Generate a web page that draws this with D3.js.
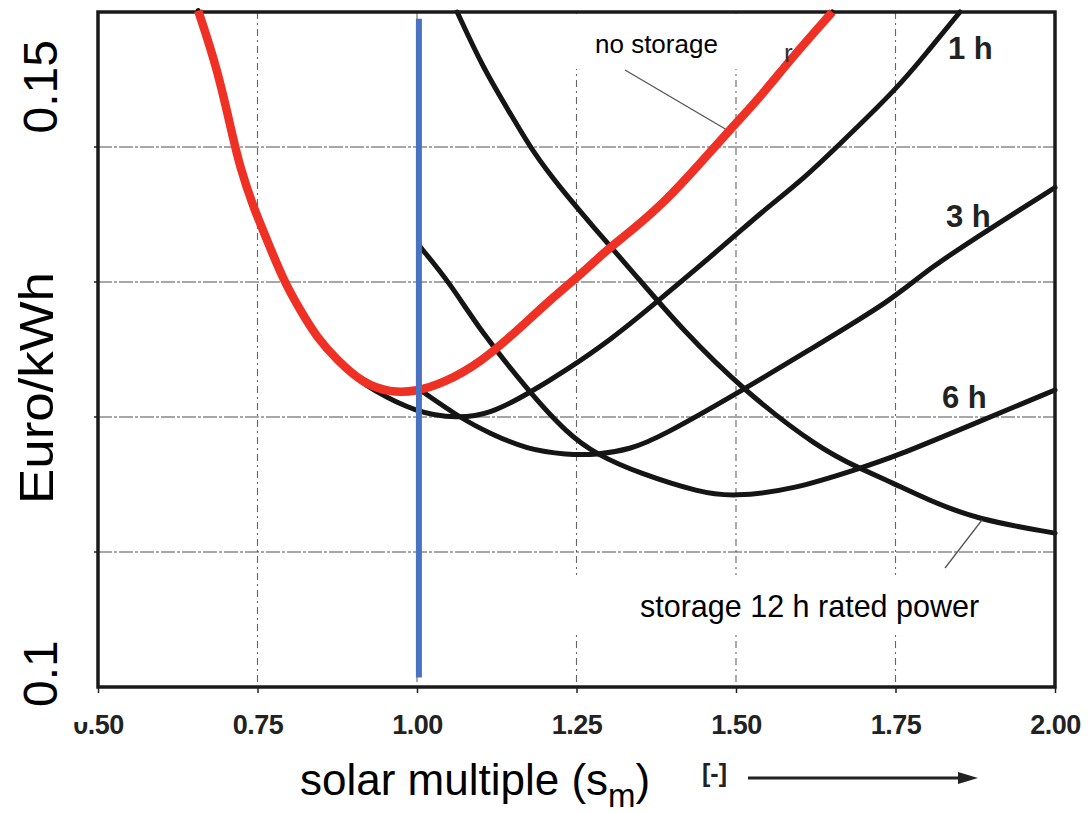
<!DOCTYPE html>
<html>
<head>
<meta charset="utf-8">
<script src="https://cdn.jsdelivr.net/npm/d3@7"></script>
<style>
  html, body { margin: 0; padding: 0; background: #fff; }
  svg { display: block; font-family: "Liberation Sans", Arial, sans-serif; }
</style>
</head>
<body>
<svg id="chart" width="1091" height="813"></svg>
<script>
// ---------- data (solar multiple, Euro/kWh) ----------
const smTicks = [0.5, 0.75, 1.0, 1.25, 1.5, 1.75, 2.0];
const smTickLabels = ["0.50", "0.75", "1.00", "1.25", "1.50", "1.75", "2.00"];
const costTicks = [0.10, 0.15];
const costTickLabels = ["0.1", "0.15"];
const gridSM = [0.75, 1.0, 1.25, 1.5, 1.75];
const gridCost = [0.11, 0.12, 0.13, 0.14];

const noStorage = [
  [0.657, 0.1501], [0.6865, 0.1459], [0.710, 0.1410], [0.7226, 0.1385], [0.743, 0.1356],
  [0.765, 0.1331], [0.790, 0.1302], [0.817, 0.1279], [0.843, 0.1259], [0.875, 0.1242],
  [0.915, 0.1225], [0.958, 0.1218], [1.000, 0.1219], [1.041, 0.1225], [1.099, 0.1240],
  [1.157, 0.1264], [1.209, 0.1287], [1.260, 0.1307], [1.298, 0.1324], [1.339, 0.1339],
  [1.392, 0.1361], [1.444, 0.1388], [1.491, 0.1413], [1.538, 0.1437], [1.589, 0.1467],
  [1.651, 0.1500]
];
const storage1h = [
  [0.903, 0.1230], [0.926, 0.1221], [1.000, 0.1203], [1.063, 0.1199], [1.114, 0.1202],
  [1.177, 0.1218], [1.235, 0.1235], [1.303, 0.1257], [1.373, 0.1284], [1.491, 0.1331],
  [1.538, 0.1351], [1.600, 0.1374], [1.658, 0.1400], [1.754, 0.1444], [1.799, 0.1470],
  [1.851, 0.1500]
];
const storage3h = [
  [1.005, 0.1220], [1.072, 0.1198], [1.114, 0.1188], [1.172, 0.1176], [1.235, 0.1172],
  [1.282, 0.1172], [1.334, 0.1176], [1.381, 0.1185], [1.511, 0.1220], [1.616, 0.1250],
  [1.746, 0.1287], [1.799, 0.1309], [1.903, 0.1341], [2.000, 0.1370]
];
const storage6h = [
  [1.005, 0.1326], [1.052, 0.1299], [1.099, 0.1264], [1.177, 0.1218], [1.235, 0.1188],
  [1.282, 0.1172], [1.350, 0.1158], [1.444, 0.1144], [1.495, 0.1141], [1.589, 0.1146],
  [1.694, 0.1162], [1.746, 0.1170], [1.878, 0.1196], [2.000, 0.1220]
];
const storage12h = [
  [1.063, 0.1500], [1.103, 0.1459], [1.146, 0.1425], [1.182, 0.1396], [1.224, 0.1370],
  [1.276, 0.1341], [1.339, 0.1307], [1.417, 0.1264], [1.511, 0.1220], [1.632, 0.1176],
  [1.694, 0.1162], [1.746, 0.1151], [1.799, 0.1139], [1.878, 0.1124], [2.000, 0.1114]
];
const markerSM = 1.003;
const markerCost = [0.1007, 0.1495];

// ---------- setup ----------
const svg = d3.select("#chart");
const x = d3.scaleLinear().domain([0.5, 2.0]).range([98, 1055]);
const y = d3.scaleLinear().domain([0.10, 0.15]).range([687, 12]);
const FONT = '"Liberation Sans", Arial, sans-serif';

// grid
const grid = svg.append("g").attr("stroke", "#333").attr("stroke-width", 1.1);
grid.selectAll("line.gx").data(gridSM).join("line")
  .attr("stroke-dasharray", "7,4,2,4").attr("opacity", 0.75)
  .attr("x1", d => x(d)).attr("x2", d => x(d))
  .attr("y1", y(0.15)).attr("y2", y(0.10));
grid.selectAll("line.gy").data(gridCost).join("line")
  .attr("stroke-dasharray", "14,2,3,2").attr("opacity", 0.85)
  .attr("x1", x(0.5)).attr("x2", x(2.0))
  .attr("y1", d => y(d)).attr("y2", d => y(d));

// white patches (overlaid label areas)
svg.append("rect").attr("x", 563).attr("y", 14).attr("width", 222).attr("height", 55).attr("fill", "#fff");
svg.append("rect").attr("x", 565).attr("y", 575).attr("width", 440).attr("height", 58).attr("fill", "#fff");

// left ticks
svg.append("g").selectAll("line").data(gridCost).join("line")
  .attr("x1", x(0.5) - 4).attr("x2", x(0.5))
  .attr("y1", d => y(d)).attr("y2", d => y(d))
  .attr("stroke", "#222").attr("stroke-width", 1.5);

// x axis
const xAxis = d3.axisBottom(x).tickValues(smTicks)
  .tickFormat((d, i) => smTickLabels[i]).tickSize(6).tickPadding(22);
const gx = svg.append("g").attr("transform", `translate(0,${y(0.10)})`).call(xAxis);
gx.select(".domain").remove();
gx.selectAll(".tick line").attr("stroke", "#222").attr("stroke-width", 1.5);
gx.selectAll(".tick text").attr("font-family", FONT).attr("font-weight", "bold")
  .attr("font-size", 27).attr("fill", "#222").attr("letter-spacing", -0.5);
// partially hidden leading zero of first label
svg.append("rect").attr("x", 68).attr("y", 703).attr("width", 21).attr("height", 19).attr("fill", "#fff");

// curves
const line = d3.line().x(d => x(d[0])).y(d => y(d[1])).curve(d3.curveBasis);
const blacks = [noStorage, storage1h, storage3h, storage6h, storage12h];
svg.append("g").selectAll("path").data(blacks).join("path")
  .attr("d", line).attr("fill", "none").attr("stroke", "#151515")
  .attr("stroke-width", 5).attr("stroke-linecap", "round").attr("stroke-linejoin", "round");

// frame
svg.append("rect").attr("x", x(0.5)).attr("y", y(0.15))
  .attr("width", x(2.0) - x(0.5)).attr("height", y(0.10) - y(0.15))
  .attr("fill", "none").attr("stroke", "#1a1a1a").attr("stroke-width", 3.5);

// leader lines
svg.append("line").attr("x1", 625).attr("y1", 70).attr("x2", 727).attr("y2", 130)
  .attr("stroke", "#555").attr("stroke-width", 1.3);
svg.append("line").attr("x1", 982).attr("y1", 520).attr("x2", 945).attr("y2", 568)
  .attr("stroke", "#555").attr("stroke-width", 1.3);

// red overlay (no storage)
svg.append("path").datum(noStorage).attr("d", line).attr("fill", "none")
  .attr("stroke", "#ee3124").attr("stroke-width", 8.5).attr("stroke-linejoin", "round");

// blue marker line
svg.append("line").attr("x1", x(markerSM)).attr("x2", x(markerSM))
  .attr("y1", y(markerCost[0])).attr("y2", y(markerCost[1]))
  .attr("stroke", "#4a72c0").attr("stroke-width", 6);

// curve labels
const lbl = svg.append("g").attr("font-family", FONT).attr("font-weight", "bold")
  .attr("font-size", 31).attr("fill", "#222");
lbl.append("text").attr("x", 948).attr("y", 59).text("1 h");
lbl.append("text").attr("x", 946).attr("y", 227).text("3 h");
lbl.append("text").attr("x", 942).attr("y", 408).text("6 h");
svg.append("text").attr("x", 784).attr("y", 62).attr("font-family", FONT)
  .attr("font-size", 26).attr("fill", "#333").text("r");

svg.append("text").attr("x", 595).attr("y", 53).attr("font-family", FONT)
  .attr("font-size", 26).attr("fill", "#000").text("no storage");
svg.append("text").attr("x", 640).attr("y", 617).attr("font-family", FONT)
  .attr("font-size", 30.5).attr("fill", "#000").text("storage 12 h rated power");

// y tick labels
const yOff = [20, 28];
const yAnchor = ["start", "end"];
svg.append("g").selectAll("text").data(costTicks).join("text")
  .attr("transform", (d, i) => `translate(57,${y(d) + yOff[i]}) rotate(-90)`)
  .attr("text-anchor", (d, i) => yAnchor[i])
  .attr("font-family", FONT).attr("font-size", 48).attr("fill", "#000")
  .text((d, i) => costTickLabels[i]);

// y axis title
svg.append("text").attr("transform", "translate(53,388) rotate(-90)")
  .attr("text-anchor", "middle").attr("font-family", FONT).attr("font-size", 48)
  .attr("textLength", 232).attr("lengthAdjust", "spacingAndGlyphs")
  .attr("fill", "#000").text("Euro/kWh");

// x axis title
const xt = svg.append("text").attr("x", 300).attr("y", 795).attr("font-family", FONT)
  .attr("font-size", 44).attr("fill", "#000");
xt.append("tspan").text("solar multiple (s");
xt.append("tspan").attr("font-size", 33).attr("dy", 12).text("m");
xt.append("tspan").attr("dy", -12).text(")");

svg.append("text").attr("x", 702).attr("y", 782).attr("font-family", FONT)
  .attr("font-weight", "bold").attr("font-size", 25).attr("fill", "#222").text("[-]");
svg.append("line").attr("x1", 748).attr("x2", 962).attr("y1", 778).attr("y2", 778)
  .attr("stroke", "#222").attr("stroke-width", 3);
svg.append("path").attr("d", "M958,772 L978,778 L958,784 Z").attr("fill", "#222");
</script>
</body>
</html>
